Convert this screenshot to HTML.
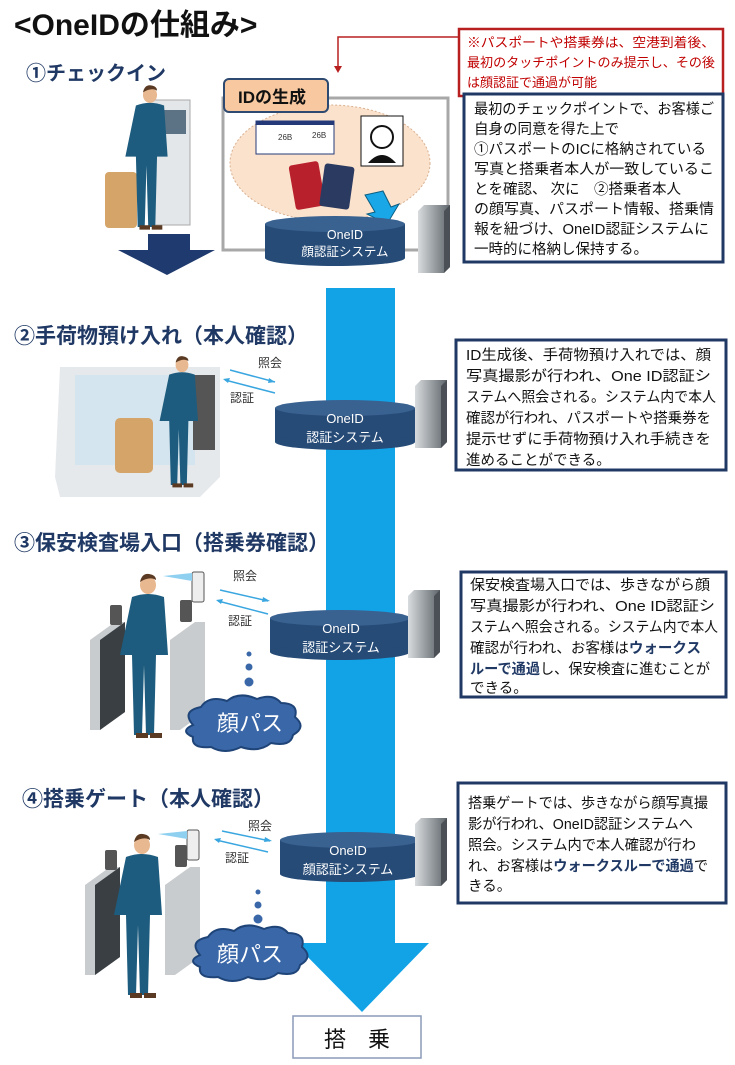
<!DOCTYPE html>
<html><head><meta charset="utf-8"><style>
html,body{margin:0;padding:0;background:#fff;}
svg{display:block;}
text{font-family:"Liberation Sans","Noto Sans CJK JP",sans-serif;}
</style></head><body>
<svg width="735" height="1065" viewBox="0 0 735 1065" xmlns="http://www.w3.org/2000/svg">
<defs>
<linearGradient id="srv" x1="0" x2="1"><stop offset="0" stop-color="#d9dcde"/><stop offset="0.5" stop-color="#9aa0a4"/><stop offset="1" stop-color="#5f666b"/></linearGradient>
<g id="person">
 <ellipse cx="0" cy="0" rx="8" ry="9" fill="#e8b890"/>
 <path d="M-8,-3 q2,-9 9,-8 q7,1 7,6 l-2,-1 q-6,-2 -14,3z" fill="#5a3a22"/>
 <path d="M-16,12 q16,-6 32,0 l4,58 h-12 l-2,80 h-8 l-2,-70 l-2,70 h-8 l-2,-80 h-12z" fill="#1d5c7e"/>
 <rect x="-12" y="148" width="12" height="5" fill="#5a3a22"/><rect x="2" y="148" width="12" height="5" fill="#5a3a22"/>
</g>
<g id="gate">
 <path d="M0,40 l25,-18 h10 v90 l-25,18 h-10z" fill="#c9ccce"/>
 <path d="M10,40 l25,-18 v90 l-25,18z" fill="#3a3f44"/>
 <path d="M80,40 l25,-18 h10 v90 l-25,18 h-10z" fill="#c9ccce"/>
 <rect x="90" y="0" width="12" height="22" fill="#555" rx="2"/>
 <rect x="20" y="5" width="12" height="20" fill="#555" rx="2"/>
</g>
<g id="db">
 <rect x="0" y="8" width="140" height="34" fill="#264b77"/>
 <ellipse cx="70" cy="42" rx="70" ry="8" fill="#264b77"/>
 <ellipse cx="70" cy="8" rx="70" ry="8" fill="#3a6291"/>
</g>
<g id="server">
 <path d="M0,6 l6,-6 h26 v62 l-6,6 h-26z" fill="url(#srv)"/>
 <path d="M26,6 l6,-6 v62 l-6,6z" fill="#4a5055"/>
</g>
<g id="cloud">
 <path d="M10,25 q-12,-14 8,-18 q8,-12 26,-6 q12,-10 30,-2 q16,-6 24,4 q18,0 14,14 q12,10 -2,18 q-2,12 -22,8 q-12,10 -30,4 q-16,8 -30,0 q-20,2 -18,-10 q-14,-6 0,-12z" fill="#3a67a8" stroke="#1f4478" stroke-width="2"/>
</g>
</defs>

<text x="14" y="35" font-size="30" font-weight="bold" fill="#111">&lt;OneIDの仕組み&gt;</text>
<text x="26" y="80" font-size="20" font-weight="bold" fill="#1f3864">①チェックイン</text>

<rect x="459" y="29" width="264" height="67" fill="#fff" stroke="#b82020" stroke-width="2.5"/>
<text font-size="13" fill="#c00000"><tspan x="467" y="47" textLength="248" lengthAdjust="spacingAndGlyphs">※パスポートや搭乗券は、空港到着後、</tspan><tspan x="467" y="67" textLength="248" lengthAdjust="spacingAndGlyphs">最初のタッチポイントのみ提示し、その後</tspan><tspan x="467" y="87">は顔認証で通過が可能</tspan></text>
<path d="M458,37 H338 V66" fill="none" stroke="#b82020" stroke-width="1.5"/>
<path d="M334,66 h8 l-4,7z" fill="#b82020"/>

<rect x="150" y="100" width="40" height="125" fill="#e4e7ea" stroke="#aaa"/>
<rect x="158" y="110" width="28" height="24" fill="#5c7385"/>
<rect x="105" y="172" width="32" height="56" rx="4" fill="#d4a468"/>
<use href="#person" transform="translate(150,95) scale(0.88)"/>
<path d="M148,234 h42 v16 h25 l-48,25 l-49,-25 h30z" fill="#1f3a6e"/>

<rect x="223" y="98" width="225" height="152" fill="#fff" stroke="#a8a8a8" stroke-width="3"/>
<ellipse cx="330" cy="163" rx="100" ry="58" fill="#fbe2cc" stroke="#d9b090" stroke-dasharray="2,2"/>
<rect x="224" y="79" width="104" height="33" rx="5" fill="#f8c9a0" stroke="#2e4a70" stroke-width="2"/>
<text x="238" y="103" font-size="17" font-weight="bold" fill="#111">IDの生成</text>
<rect x="256" y="121" width="78" height="33" fill="#fff" stroke="#243a78"/>
<rect x="256" y="121" width="78" height="4" fill="#243a78"/>
<text x="278" y="140" font-size="8" fill="#333">26B</text><text x="312" y="138" font-size="8" fill="#333">26B</text>
<rect x="361" y="116" width="42" height="50" fill="#fff" stroke="#111"/>
<circle cx="382" cy="137" r="11" fill="#fff" stroke="#111" stroke-width="2"/>
<path d="M368,163 q14,-16 28,0z" fill="#111"/>
<rect x="292" y="163" width="30" height="45" rx="3" fill="#b8202c" transform="rotate(-10 307 185)"/>
<rect x="322" y="165" width="30" height="43" rx="3" fill="#2a3a60" transform="rotate(8 337 186)"/>
<path d="M365,195 l18,-4 l8,16 l8,-3 l-12,20 l-20,-10 l8,-2z" fill="#1aa7e8" stroke="#0a5d80"/>
<use href="#db" x="265" y="216"/>
<text x="345" y="239" font-size="12.5" fill="#fff" text-anchor="middle">OneID</text>
<text x="345" y="256" font-size="12.5" fill="#fff" text-anchor="middle">顔認証システム</text>
<use href="#server" x="418" y="205"/>

<rect x="464" y="94" width="259" height="168" fill="#fff" stroke="#1f3864" stroke-width="3"/>
<text font-size="14.5" fill="#111" lengthAdjust="spacingAndGlyphs"><tspan x="474" y="114" textLength="240" lengthAdjust="spacingAndGlyphs">最初のチェックポイントで、お客様ご</tspan><tspan x="474" y="134">自身の同意を得た上で</tspan><tspan x="474" y="154" textLength="232" lengthAdjust="spacingAndGlyphs">①パスポートのICに格納されている</tspan><tspan x="474" y="174" textLength="240" lengthAdjust="spacingAndGlyphs">写真と搭乗者本人が一致しているこ</tspan><tspan x="474" y="194">とを確認、 次に　②搭乗者本人</tspan><tspan x="474" y="214" textLength="240" lengthAdjust="spacingAndGlyphs">の顔写真、パスポート情報、搭乗情</tspan><tspan x="474" y="234" textLength="235" lengthAdjust="spacingAndGlyphs">報を紐づけ、OneID認証システムに</tspan><tspan x="474" y="254">一時的に格納し保持する。</tspan></text>

<path d="M326,288 h69 v655 h34 l-67,69 l-68,-69 h32z" fill="#12a3e6"/>

<text x="14" y="343" font-size="21" font-weight="bold" fill="#1f3864">②手荷物預け入れ（本人確認）</text>
<path d="M60,367 h160 v110 l-20,20 h-140 l-5,-20z" fill="#e6e9ec"/>
<path d="M75,375 h120 v90 h-120z" fill="#cfe3f0" opacity="0.8"/>
<rect x="115" y="418" width="38" height="55" rx="5" fill="#d4a468"/>
<rect x="193" y="375" width="22" height="75" fill="#555"/>
<use href="#person" transform="translate(182,365) scale(0.8)"/>
<text x="258" y="367" font-size="12" fill="#333">照会</text>
<text x="230" y="402" font-size="12" fill="#333">認証</text>
<path d="M230,370 l45,12" stroke="#39a6e0" stroke-width="1.5"/><path d="M275,382 l-6,-4 l-1,5z" fill="#39a6e0"/>
<path d="M275,393 l-50,-13" stroke="#39a6e0" stroke-width="1.5"/><path d="M223,379 l7,-1 l-2,5z" fill="#39a6e0"/>
<use href="#db" x="275" y="400"/>
<text x="345" y="423" font-size="13" fill="#fff" text-anchor="middle">OneID</text>
<text x="345" y="442" font-size="13" fill="#fff" text-anchor="middle">認証システム</text>
<use href="#server" x="415" y="380"/>
<rect x="456" y="340" width="270" height="130" fill="#fff" stroke="#1f3864" stroke-width="3"/>
<text font-size="14.5" fill="#111"><tspan x="466" y="360" textLength="245" lengthAdjust="spacingAndGlyphs">ID生成後、手荷物預け入れでは、顔</tspan><tspan x="466" y="381" textLength="245" lengthAdjust="spacingAndGlyphs">写真撮影が行われ、One  ID認証シ</tspan><tspan x="466" y="402" textLength="250" lengthAdjust="spacingAndGlyphs">ステムへ照会される。システム内で本人</tspan><tspan x="466" y="423" textLength="245" lengthAdjust="spacingAndGlyphs">確認が行われ、パスポートや搭乗券を</tspan><tspan x="466" y="444" textLength="245" lengthAdjust="spacingAndGlyphs">提示せずに手荷物預け入れ手続きを</tspan><tspan x="466" y="465">進めることができる。</tspan></text>

<text x="14" y="550" font-size="21" font-weight="bold" fill="#1f3864">③保安検査場入口（搭乗券確認）</text>
<use href="#gate" x="90" y="600"/>
<rect x="192" y="572" width="12" height="30" rx="2" fill="#eee" stroke="#555"/>
<path d="M163,576 l29,-3 v8z" fill="#8fd0f0"/>
<use href="#person" x="148" y="585"/>
<text x="233" y="580" font-size="12" fill="#333">照会</text>
<text x="228" y="625" font-size="12" fill="#333">認証</text>
<path d="M220,590 l48,11" stroke="#39a6e0" stroke-width="1.5"/><path d="M270,601 l-7,-4 l-1,5z" fill="#39a6e0"/>
<path d="M268,614 l-50,-13" stroke="#39a6e0" stroke-width="1.5"/><path d="M216,600 l7,-1 l-2,5z" fill="#39a6e0"/>
<circle cx="249" cy="654" r="2.5" fill="#3a67a8"/><circle cx="249" cy="667" r="3.5" fill="#3a67a8"/><circle cx="249" cy="682" r="4.5" fill="#3a67a8"/>
<use href="#cloud" x="183" y="700"/>
<text x="250" y="731" font-size="22" fill="#fff" text-anchor="middle">顔パス</text>
<use href="#db" x="270" y="610"/>
<text x="341" y="633" font-size="13" fill="#fff" text-anchor="middle">OneID</text>
<text x="341" y="652" font-size="13" fill="#fff" text-anchor="middle">認証システム</text>
<use href="#server" x="408" y="590"/>
<rect x="461" y="572" width="265" height="125" fill="#fff" stroke="#1f3864" stroke-width="3"/>
<text font-size="14.5" fill="#111"><tspan x="470" y="590" textLength="240" lengthAdjust="spacingAndGlyphs">保安検査場入口では、歩きながら顔</tspan><tspan x="470" y="611" textLength="245" lengthAdjust="spacingAndGlyphs">写真撮影が行われ、One  ID認証シ</tspan><tspan x="470" y="632" textLength="248" lengthAdjust="spacingAndGlyphs">ステムへ照会される。システム内で本人</tspan><tspan x="470" y="653">確認が行われ、お客様は<tspan font-weight="bold" fill="#1f3864">ウォークス</tspan></tspan><tspan x="470" y="674" textLength="240" lengthAdjust="spacingAndGlyphs"><tspan font-weight="bold" fill="#1f3864">ルーで通過</tspan>し、保安検査に進むことが</tspan><tspan x="470" y="693">できる。</tspan></text>

<text x="22" y="806" font-size="21" font-weight="bold" fill="#1f3864">④搭乗ゲート（本人確認）</text>
<use href="#gate" x="85" y="845"/>
<rect x="187" y="830" width="12" height="30" rx="2" fill="#eee" stroke="#555"/>
<path d="M158,834 l29,-3 v8z" fill="#8fd0f0"/>
<use href="#person" x="142" y="845"/>
<text x="248" y="830" font-size="12" fill="#333">照会</text>
<text x="225" y="862" font-size="12" fill="#333">認証</text>
<path d="M222,831 l48,10" stroke="#39a6e0" stroke-width="1.5"/><path d="M272,841 l-7,-4 l-1,5z" fill="#39a6e0"/>
<path d="M268,852 l-52,-12" stroke="#39a6e0" stroke-width="1.5"/><path d="M214,839 l7,-1 l-2,5z" fill="#39a6e0"/>
<circle cx="258" cy="892" r="2.5" fill="#3a67a8"/><circle cx="258" cy="905" r="3.5" fill="#3a67a8"/><circle cx="258" cy="919" r="4.5" fill="#3a67a8"/>
<use href="#cloud" x="190" y="930"/>
<text x="250" y="962" font-size="22" fill="#fff" text-anchor="middle">顔パス</text>
<use href="#db" x="280" y="832"/>
<text x="348" y="855" font-size="13" fill="#fff" text-anchor="middle">OneID</text>
<text x="348" y="874" font-size="13" fill="#fff" text-anchor="middle">顔認証システム</text>
<use href="#server" x="415" y="818"/>
<rect x="458" y="783" width="268" height="120" fill="#fff" stroke="#1f3864" stroke-width="3"/>
<text font-size="14.5" fill="#111"><tspan x="468" y="808" textLength="240" lengthAdjust="spacingAndGlyphs">搭乗ゲートでは、歩きながら顔写真撮</tspan><tspan x="468" y="829" textLength="225" lengthAdjust="spacingAndGlyphs">影が行われ、OneID認証システムへ</tspan><tspan x="468" y="850" textLength="228" lengthAdjust="spacingAndGlyphs">照会。システム内で本人確認が行わ</tspan><tspan x="468" y="871" textLength="240" lengthAdjust="spacingAndGlyphs">れ、お客様は<tspan font-weight="bold" fill="#1f3864">ウォークスルーで通過</tspan>で</tspan><tspan x="468" y="891">きる。</tspan></text>

<rect x="293" y="1016" width="128" height="42" fill="#fff" stroke="#8a9ab8" stroke-width="1.5"/>
<text x="357" y="1047" font-size="22" fill="#111" text-anchor="middle">搭　乗</text>
</svg>
</body></html>
